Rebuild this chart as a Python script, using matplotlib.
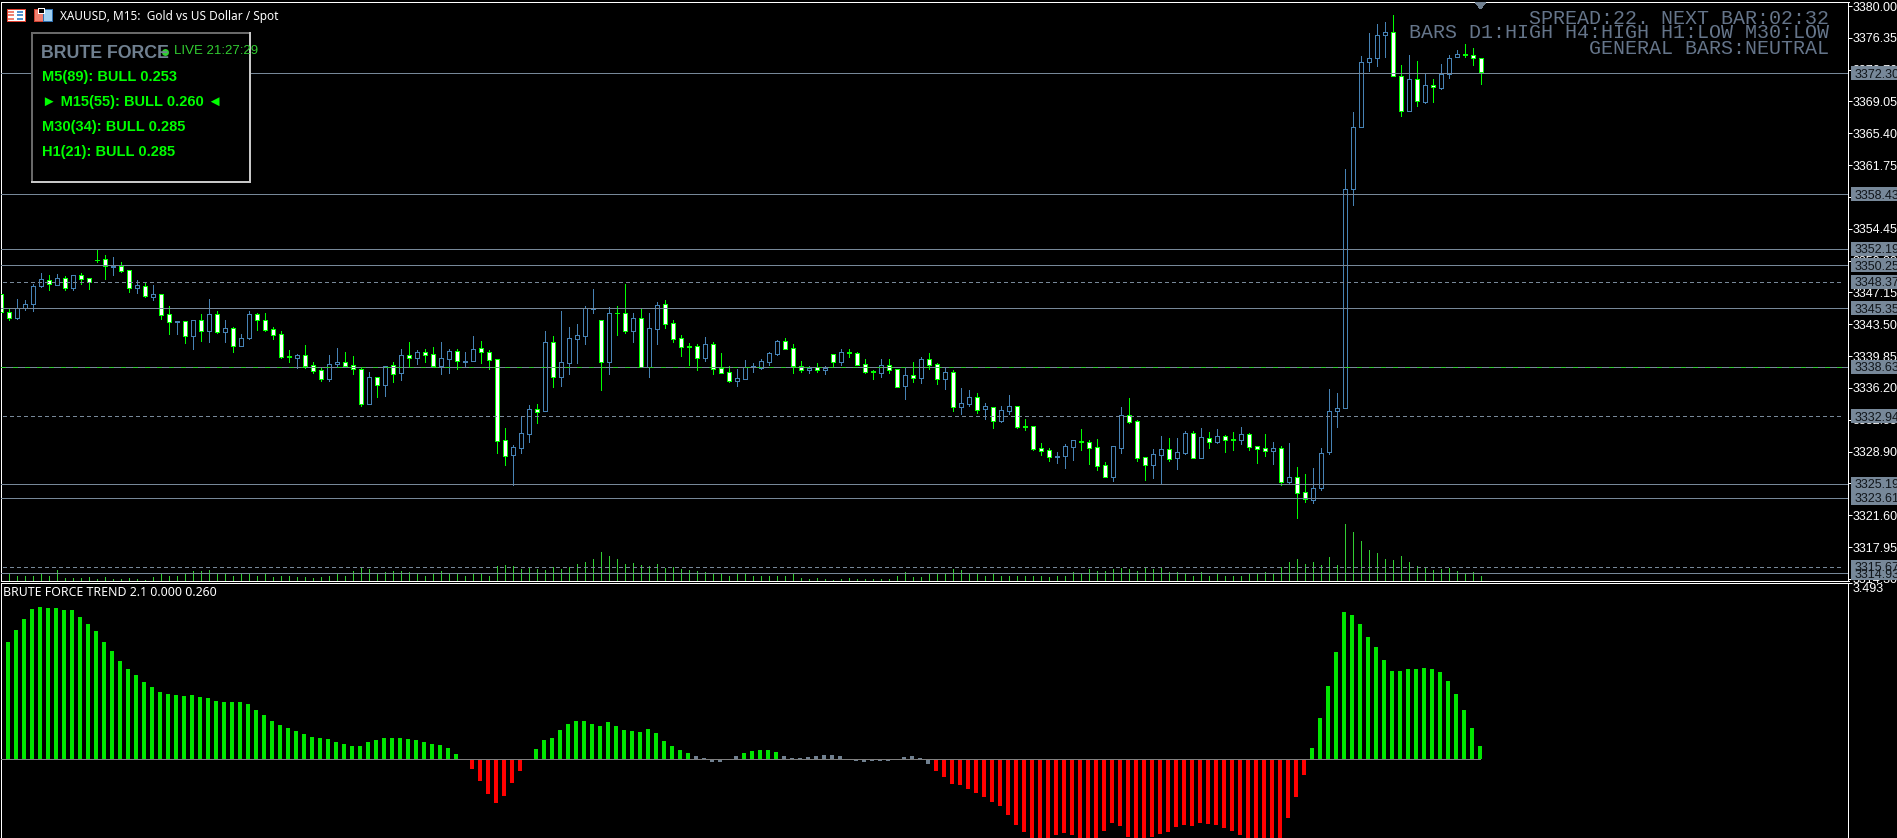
"""
XAUUSD M15 candlestick chart with the BRUTE FORCE TREND histogram below it.
"""

import numpy as np
import matplotlib
matplotlib.use('Agg')
import matplotlib.pyplot as plt
from matplotlib.patches import Rectangle, Polygon

# candle data, one row per 10 bars
high = [3347.04,3345.25,3346.39,3346.28,3348.11,3349.38,3349.11,3349.26,3348.99,3349.11,
        3349.38,3348.76,3352.13,3351.44,3351.21,3350.60,3349.68,3348.57,3348.30,3348.00,
        3346.93,3345.59,3343.83,3343.83,3343.95,3344.67,3346.39,3345.02,3343.98,3343.14,
        3342.38,3345.02,3344.75,3344.79,3343.14,3342.72,3340.54,3340.05,3341.12,3339.17,
        3338.48,3339.97,3340.77,3340.31,3339.86,3338.48,3338.02,3337.41,3338.67,3339.17,
        3340.66,3341.46,3340.54,3340.66,3340.89,3341.46,3340.66,3340.66,3340.31,3342.15,
        3341.58,3340.54,3339.47,3331.60,3329.65,3332.86,3334.24,3334.35,3342.72,3342.15,
        3345.02,3343.18,3343.53,3345.59,3347.54,3343.95,3345.44,3345.59,3348.08,3344.75,
        3345.25,3344.79,3346.05,3346.28,3343.98,3342.26,3341.35,3341.23,3342.03,3341.46,
        3340.20,3338.71,3338.36,3339.40,3339.05,3339.51,3340.31,3341.69,3341.92,3341.23,
        3339.28,3338.71,3339.05,3338.71,3340.05,3340.66,3340.66,3340.31,3339.47,3338.25,
        3339.51,3339.51,3338.33,3338.56,3339.17,3339.74,3340.20,3339.01,3338.44,3338.25,
        3336.19,3335.96,3335.61,3334.47,3333.97,3334.08,3335.38,3334.12,3332.63,3331.79,
        3329.88,3329.27,3328.85,3329.76,3330.18,3331.48,3330.22,3330.34,3327.70,3329.53,
        3334.01,3335.04,3332.52,3328.23,3329.19,3330.68,3330.45,3330.45,3331.25,3331.25,
        3331.60,3331.14,3331.48,3330.76,3331.14,3331.71,3330.99,3329.50,3330.91,3330.03,
        3329.53,3329.88,3327.12,3326.32,3327.01,3329.30,3336.07,3335.61,3361.31,3367.84,
        3374.27,3376.90,3377.94,3378.17,3378.97,3373.24,3374.38,3373.69,3372.32,3371.63,
        3373.31,3374.38,3374.96,3375.64,3375.18,3374.00]
body_top = [3346.93,3344.86,3345.32,3345.78,3347.85,3348.65,3348.61,3348.76,3348.76,3349.11,
        3349.11,3348.76,3350.90,3350.94,3350.18,3350.18,3349.68,3347.96,3347.85,3346.93,
        3346.93,3344.63,3343.83,3343.83,3343.95,3343.95,3344.63,3344.63,3343.03,3343.03,
        3341.88,3344.63,3344.63,3343.95,3342.91,3342.34,3339.82,3339.93,3339.93,3338.79,
        3338.29,3338.90,3339.13,3339.13,3338.79,3338.33,3337.41,3337.41,3338.67,3338.79,
        3339.93,3339.93,3340.28,3340.28,3340.05,3339.59,3340.39,3340.39,3339.32,3340.62,
        3340.73,3340.28,3339.47,3330.18,3329.38,3330.99,3333.74,3333.74,3341.42,3341.42,
        3339.13,3341.88,3342.23,3345.32,3345.32,3343.95,3344.75,3344.79,3344.75,3344.18,
        3344.18,3343.03,3345.67,3345.78,3343.60,3341.88,3340.96,3340.96,3341.19,3341.19,
        3338.44,3337.98,3337.29,3338.56,3338.67,3339.24,3340.16,3341.54,3341.54,3340.73,
        3338.67,3338.52,3338.56,3338.52,3340.05,3340.28,3340.28,3340.16,3338.90,3338.10,
        3338.79,3338.79,3338.33,3337.64,3337.64,3339.47,3339.47,3338.90,3337.98,3337.98,
        3334.43,3335.12,3335.12,3334.08,3333.97,3333.62,3334.08,3334.08,3331.79,3331.79,
        3329.27,3329.04,3328.43,3329.50,3330.18,3330.11,3329.95,3329.38,3327.32,3329.50,
        3333.05,3333.05,3332.36,3328.23,3328.58,3329.15,3329.15,3328.81,3330.99,3330.99,
        3330.53,3330.41,3330.64,3330.64,3330.30,3330.87,3330.87,3329.50,3329.27,3329.27,
        3329.27,3325.94,3325.94,3324.22,3324.68,3328.69,3333.51,3333.85,3358.98,3366.09,
        3373.54,3374.00,3376.64,3376.98,3376.98,3371.94,3371.59,3371.59,3370.90,3370.90,
        3372.17,3374.00,3374.46,3374.46,3374.34,3374.00]
body_bottom = [3344.86,3344.25,3344.25,3345.32,3345.78,3347.92,3348.08,3348.04,3347.69,3347.69,
        3348.73,3348.30,3350.83,3350.14,3350.10,3349.60,3347.69,3347.69,3346.78,3346.66,
        3344.60,3343.79,3343.79,3342.19,3342.19,3342.76,3342.76,3342.65,3342.65,3341.04,
        3341.04,3341.96,3343.95,3342.88,3342.30,3339.78,3339.70,3339.66,3338.75,3338.17,
        3337.26,3337.26,3338.90,3338.75,3338.33,3334.39,3334.39,3336.57,3336.57,3337.83,
        3337.94,3339.66,3339.66,3339.93,3338.75,3338.75,3339.55,3339.32,3339.21,3339.32,
        3340.28,3339.44,3330.15,3328.43,3328.54,3329.34,3330.95,3333.47,3333.59,3337.49,
        3337.49,3339.09,3341.84,3342.19,3345.30,3339.21,3339.21,3344.75,3342.76,3342.76,
        3338.59,3338.63,3342.99,3343.56,3341.81,3340.93,3340.93,3339.66,3339.66,3338.40,
        3337.94,3337.03,3337.03,3337.26,3338.59,3338.52,3339.21,3340.12,3340.70,3338.75,
        3338.29,3338.29,3338.29,3338.29,3339.21,3339.21,3340.16,3338.86,3338.06,3337.98,
        3337.94,3338.29,3336.34,3336.45,3337.37,3337.37,3338.86,3337.26,3337.26,3334.04,
        3334.04,3334.39,3333.70,3333.78,3332.44,3332.44,3333.59,3331.75,3331.71,3329.23,
        3329.00,3328.31,3328.31,3328.43,3329.46,3330.03,3329.34,3327.28,3326.02,3326.02,
        3329.34,3332.32,3328.20,3327.39,3327.39,3328.54,3328.08,3328.20,3328.77,3328.20,
        3328.20,3330.03,3330.03,3330.26,3330.26,3330.26,3329.46,3329.23,3329.00,3329.00,
        3325.44,3325.44,3324.18,3323.42,3323.30,3324.68,3328.88,3333.51,3333.85,3358.98,
        3366.09,3373.54,3374.00,3376.64,3371.94,3367.92,3367.92,3369.07,3369.03,3370.67,
        3370.64,3372.17,3374.12,3374.34,3374.00,3372.39]
low = [3344.75,3343.98,3344.10,3345.13,3345.02,3347.77,3347.42,3348.04,3347.42,3347.42,
        3348.11,3347.54,3350.64,3348.69,3349.15,3349.49,3347.20,3347.08,3346.62,3346.28,
        3344.10,3342.38,3342.38,3341.35,3340.66,3341.58,3341.46,3342.49,3341.46,3340.31,
        3341.04,3341.81,3342.84,3342.72,3341.81,3339.63,3339.17,3338.52,3338.52,3337.91,
        3336.99,3336.99,3338.56,3338.56,3337.79,3334.12,3334.39,3335.15,3335.27,3336.87,
        3337.10,3338.56,3338.94,3339.17,3338.56,3337.79,3337.91,3338.36,3338.56,3339.32,
        3339.05,3338.36,3328.73,3327.35,3325.02,3328.73,3329.99,3332.17,3333.59,3336.30,
        3336.42,3337.79,3339.05,3341.23,3344.79,3335.96,3337.79,3342.26,3342.49,3341.46,
        3338.59,3337.45,3341.23,3343.07,3341.46,3339.86,3338.79,3338.25,3339.28,3337.79,
        3337.94,3336.87,3336.42,3337.26,3338.02,3338.36,3338.82,3339.97,3340.70,3337.91,
        3338.02,3337.91,3338.02,3337.79,3338.56,3338.82,3339.74,3338.79,3337.91,3337.22,
        3337.45,3337.91,3336.34,3334.92,3336.87,3336.76,3338.36,3336.64,3336.07,3333.55,
        3333.20,3334.12,3333.32,3332.63,3331.60,3332.29,3333.20,3331.60,3331.37,3329.08,
        3328.50,3327.81,3327.58,3327.01,3327.93,3329.08,3327.47,3326.78,3326.02,3325.52,
        3328.73,3332.17,3327.81,3325.63,3325.86,3325.18,3327.81,3326.90,3328.62,3328.20,
        3328.20,3329.30,3329.88,3328.85,3329.08,3329.76,3329.08,3327.58,3328.39,3327.47,
        3325.06,3325.29,3321.31,3323.15,3323.03,3324.52,3328.65,3331.75,3333.85,3357.22,
        3366.09,3372.55,3373.16,3374.19,3371.94,3367.42,3367.92,3368.57,3368.92,3369.03,
        3370.52,3371.78,3374.12,3374.19,3373.24,3371.09]
# u = blue hollow candle, d = green/white candle
candle_dir = ("dduuuududu" "dddduddudu" "ddudududud" "uudddddudd"
              "duudddudud" "ududduuduu" "dddduuudud" "uuuuududdu"
              "duudddddud" "dduuuuuudd" "dudududddd" "uddududdud"
              "uududuuddd" "dduuuddddu" "uddduuduud" "ududdudddu"
              "dudduuuuuu" "uuuuddudud" "uuuddd")

volume = [6,7,5,5,5,7,5,11,3,3, 3,4,2,4,2,2,3,2,1,4, 7,5,5,8,10,10,11,8,8,5,
          8,8,5,7,4,5,5,4,4,3, 4,5,8,5,10,13,12,8,9,10, 10,9,8,5,7,10,7,7,5,8,
          7,5,15,16,15,12,13,12,11,14, 12,14,17,19,22,29,25,22,17,18,
          16,15,17,13,14,12,11,10,9,8, 7,5,7,7,5,5,5,5,5,8, 3,2,3,2,1,2,3,2,2,2,
          2,2,5,9,4,4,7,7,7,12, 11,7,8,5,7,5,5,5,5,5, 5,4,5,5,9,8,12,10,10,12,
          13,12,10,14,12,14,9,9,8,5, 9,5,7,5,5,5,7,8,9,8,
          14,19,22,17,19,16,24,16,57,49, 40,31,28,22,21,25,19,15,13,11, 12,13,10,8,9,5]

trend = [2.166,2.325,2.563,2.781,2.979,3.018,2.999,2.999,2.959,2.959,
         2.820,2.682,2.543,2.325,2.147,1.948,1.790,1.671,1.532,1.433,
         1.334,1.295,1.275,1.255,1.275,1.235,1.215,1.156,1.136,1.136,
         1.136,1.096,0.978,0.878,0.760,0.680,0.621,0.561,0.502,0.443,
         0.423,0.403,0.343,0.304,0.264,0.264,0.343,0.383,0.423,0.423,
         0.423,0.403,0.383,0.343,0.304,0.284,0.225,0.106,0.0,-0.192,
         -0.429,-0.687,-0.865,-0.727,-0.469,-0.231,0.0,0.205,0.383,0.423,
         0.581,0.700,0.760,0.760,0.700,0.661,0.740,0.661,0.581,0.561,
         0.542,0.601,0.522,0.363,0.264,0.185,0.125,0.066,0.026,-0.053,
         -0.053,0.0,0.066,0.125,0.165,0.185,0.185,0.145,0.066,0.026,
         0.026,0.046,0.066,0.086,0.086,0.066,0.0,-0.033,-0.053,-0.033,
         -0.033,-0.033,0.0,0.046,0.066,0.026,-0.092,-0.231,-0.350,-0.489,
         -0.509,-0.588,-0.667,-0.746,-0.845,-0.925,-1.103,-1.301,-1.440,-1.60,
         -1.62,-1.62,-1.499,-1.460,-1.499,-1.60,-1.60,-1.60,-1.420,-1.262,
         -1.321,-1.539,-1.60,-1.60,-1.539,-1.480,-1.440,-1.341,-1.301,-1.321,
         -1.262,-1.281,-1.301,-1.361,-1.420,-1.499,-1.60,-1.60,-1.60,-1.60,
         -1.60,-1.162,-0.746,-0.310,0.225,0.819,1.453,2.127,2.919,2.860,
         2.682,2.424,2.226,1.968,1.750,1.750,1.790,1.790,1.810,1.790,
         1.731,1.552,1.295,0.978,0.621,0.264]

solid_levels = [3372.30, 3358.43, 3352.19, 3350.25, 3345.35, 3338.63, 3325.19, 3323.61, 3314.93]
dashed_levels = [3348.37, 3332.94, 3315.67]
green_levels = [3338.63]
label_levels = [3372.30, 3358.43, 3352.19, 3350.25, 3348.37, 3345.35, 3338.63, 3332.94,
                3325.19, 3323.61, 3314.93, 3315.67]

price_ticks = [3380.00, 3376.35, 3372.70, 3369.05, 3365.40, 3361.75, 3358.10, 3354.45, 3350.80,
               3347.15, 3343.50, 3339.85, 3336.20, 3332.55, 3328.90, 3325.25, 3321.60, 3317.95,
               3314.30]

panel_lines = ["M5(89): BULL 0.253", "\u25ba M15(55): BULL 0.260 \u25c4",
               "M30(34): BULL 0.285", "H1(21): BULL 0.285"]
info_lines = ["SPREAD:22. NEXT BAR:02:32", "BARS D1:HIGH H4:HIGH H1:LOW M30:LOW",
              "GENERAL BARS:NEUTRAL"]

W, H = 1897, 838
LIME = '#00FF00'
SLATE = '#778899'
BLUE = '#4682B4'

plt.rcParams['font.family'] = ['Liberation Sans', 'DejaVu Sans']
plt.rcParams['lines.antialiased'] = False
plt.rcParams['patch.antialiased'] = False
PX = 72.0 / 100.0   # one pixel in points


def rect(x0, y0, x1, y1):
    # axes rectangle from pixel edges, y counted from the top
    return [x0 / W, 1 - y1 / H, (x1 - x0) / W, (y1 - y0) / H]


fig = plt.figure(figsize=(W / 100, H / 100), dpi=100, facecolor='black')

x = np.arange(len(high))
high = np.array(high)
low = np.array(low)
body_top = np.array(body_top)
body_bottom = np.array(body_bottom)
is_up = np.array([c == 'u' for c in candle_dir])
trend = np.array(trend)

MAIN = rect(1, 2, 1848.5, 581)
YLIM = (3314.06, 3380.46)

# volume sits behind the candles, one unit is one pixel tall
vol_ax = fig.add_axes(MAIN, zorder=1)
vol_ax.set_xlim((1 - 0.5) / 8, (1848.5 - 0.5) / 8)
vol_ax.set_ylim(0, 579)
vol_ax.axis('off')
vol_ax.vlines(x, 0, volume, color='#32CD32', lw=PX)

ax = fig.add_axes(MAIN, zorder=2)
ax.patch.set_alpha(0)
ax.set_xlim(vol_ax.get_xlim())
ax.set_ylim(*YLIM)
for s in ax.spines.values():
    s.set_color('white')
    s.set_linewidth(PX)
ax.set_xticks([])
ax.yaxis.tick_right()
ax.set_yticks(price_ticks)
ax.set_yticklabels(['%.2f' % t for t in price_ticks])
ax.tick_params(axis='y', colors='white', labelcolor='white', length=4 * PX, width=PX,
               labelsize=9, pad=0)

wick_colors = [BLUE if u else LIME for u in is_up]
ax.vlines(x, low, high, colors=wick_colors, lw=PX, zorder=2)
ax.bar(x, body_top - body_bottom, bottom=body_bottom, width=0.5,
       facecolor=['black' if u else 'white' for u in is_up],
       edgecolor=wick_colors, linewidth=PX, zorder=3)

# horizontal levels run over the candles
for p in solid_levels:
    ax.axhline(p, color=SLATE, lw=PX, zorder=4)
for p in dashed_levels:
    ax.axhline(p, xmin=0.001, xmax=0.9975, color=SLATE, lw=PX, dashes=(4, 4), zorder=4)
for p in green_levels:
    ax.axhline(p, color='#32CD32', lw=PX, dashes=(5, 7), zorder=5)

# price tags at the right edge
tag_ax = fig.add_axes(rect(1851, 2, W, 581), zorder=3)
tag_ax.set_xlim(0, 1)
tag_ax.set_ylim(*YLIM)
tag_ax.axis('off')
tag_h = 14 / 8.72
for p in label_levels:
    tag_ax.barh(p, 1, left=0, height=tag_h, color=SLATE, linewidth=0, zorder=2)
    tag_ax.text(4 / 46, p, '%.2f' % p, color='#10151a', fontsize=9, va='center_baseline',
                ha='left', zorder=3)

# lower pane
sub = fig.add_axes(rect(1, 583, 1848.5, H + 1), zorder=2)
sub.set_facecolor('black')
sub.set_xlim(1 / 8, 1848.5 / 8)
sub.set_ylim(-1.579, 3.493)
for name, s in sub.spines.items():
    s.set_color('white')
    s.set_linewidth(PX)
sub.spines['bottom'].set_visible(False)
sub.set_xticks([])
sub.yaxis.tick_right()
sub.set_yticks([3.493])
sub.set_yticklabels(['3.493'], va='top')
sub.tick_params(axis='y', colors='white', labelcolor='white', length=4 * PX, width=PX,
                labelsize=9, pad=0)

bar_colors = np.where(trend >= 0.1, '#00E600', np.where(trend <= -0.1, '#FF0000', '#708090'))
sub.bar(x, trend, width=0.5, color=bar_colors, linewidth=0, zorder=2)
sub.hlines(0, x[0], x[-1], color='#808080', lw=PX, zorder=3)
sub.text(2 / 1847.5, 0.963, 'BRUTE FORCE TREND 2.1 0.000 0.260', transform=sub.transAxes,
         color='white', fontsize=8.85, family='Noto Sans', va='center', ha='left')

# pixel overlay for the window furniture
top = fig.add_axes([0, 0, 1, 1], zorder=5)
top.set_xlim(0, W)
top.set_ylim(H, 0)
top.axis('off')
top.patch.set_alpha(0)

# chart window icons
top.add_patch(Rectangle((6.5, 9.5), 18, 12, facecolor='white', edgecolor='#E04030', lw=PX))
for cx, col in [(8, '#F08070'), (17, '#5090D0')]:
    for cy in (11, 14.5, 18):
        top.add_patch(Rectangle((cx, cy), 6, 2, facecolor=col, lw=0))
top.add_patch(Rectangle((33.5, 9.5), 9, 12, facecolor='#F08070', edgecolor='#D04030', lw=PX))
top.add_patch(Rectangle((42.5, 9.5), 9, 12, facecolor='#A0D0F0', edgecolor='#3070B0', lw=PX))
top.add_patch(Rectangle((38, 8), 6, 5, facecolor='black', edgecolor='white', lw=PX))
top.text(60, 16.5, 'XAUUSD, M15:  Gold vs US Dollar / Spot', color='white', fontsize=8.5,
         family='Noto Sans', va='center', ha='left')

# trend panel
top.add_patch(Rectangle((32, 33), 218, 149, facecolor='black', edgecolor='none'))
top.plot([32, 32, 250], [182, 33, 33], color='#696969', lw=2 * PX)
top.plot([32, 250, 250], [182, 182, 33], color='#C8C8C8', lw=2 * PX)
top.text(41, 53, 'BRUTE FORCE', color='#708090', fontsize=12.8, fontweight='bold',
         va='center', ha='left')
top.plot([165], [52], marker='o', ms=5, color='#32CD32', mew=0)
top.text(174, 51, 'LIVE 21:27:29', color='#32CD32', fontsize=9.5, va='center', ha='left')
for txt, ty in zip(panel_lines, [77, 102, 127, 152]):
    top.text(42, ty, txt, color=LIME, fontsize=10.5, fontweight='bold', va='center', ha='left')

# info text top right
for txt, ty in zip(info_lines, [18, 33, 48]):
    top.text(1829, ty, txt, color='#65758a', fontsize=14.4, family='Liberation Mono',
             va='center', ha='right')

# shift marker above the last bar
top.add_patch(Polygon([[1475, 2], [1486, 2], [1480.5, 9]], closed=True, facecolor='#708090', lw=0))

fig.savefig('out.png', dpi=100, facecolor='black')
